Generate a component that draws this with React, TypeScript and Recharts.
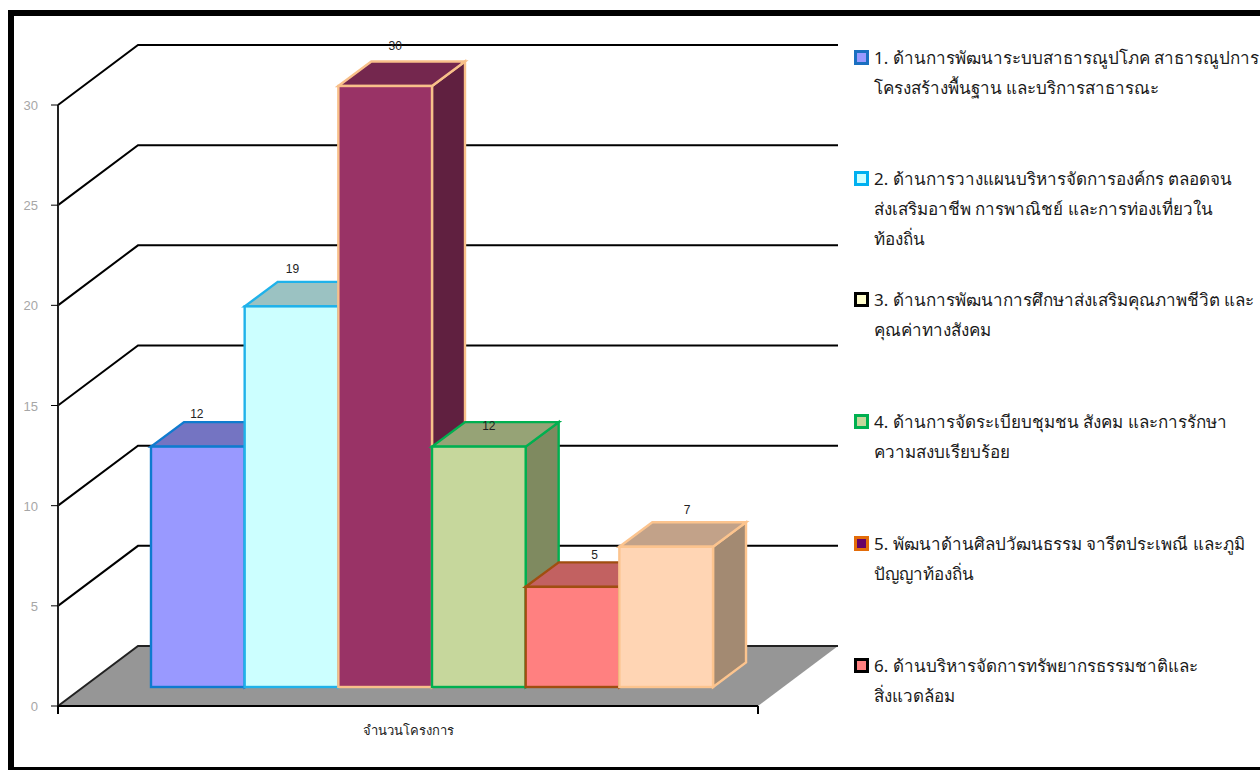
import React from 'react';
import { BarChart, Bar, XAxis, YAxis, Legend, CartesianGrid } from 'recharts';

const categories = ['จำนวนโครงการ'];
const seriesValues = [12, 19, 30, 12, 5, 7];
const yTicks = [0, 5, 10, 15, 20, 25, 30];
const seriesKeys = ['s1', 's2', 's3', 's4', 's5', 's6'];
const legendLines = [
  ['1. ด้านการพัฒนาระบบสาธารณูปโภค สาธารณูปการ', 'โครงสร้างพื้นฐาน และบริการสาธารณะ'],
  ['2. ด้านการวางแผนบริหารจัดการองค์กร ตลอดจน', 'ส่งเสริมอาชีพ การพาณิชย์ และการท่องเที่ยวใน', 'ท้องถิ่น'],
  ['3. ด้านการพัฒนาการศึกษาส่งเสริมคุณภาพชีวิต และ', 'คุณค่าทางสังคม'],
  ['4. ด้านการจัดระเบียบชุมชน สังคม และการรักษา', 'ความสงบเรียบร้อย'],
  ['5. พัฒนาด้านศิลปวัฒนธรรม จารีตประเพณี และภูมิ', 'ปัญญาท้องถิ่น'],
  ['6. ด้านบริหารจัดการทรัพยากรธรรมชาติและ', 'สิ่งแวดล้อม'],
];

const frontColors = ['#9999ff', '#ccffff', '#993366', '#c6d79c', '#ff8080', '#ffd5b4'];
const topColors = ['#7474c2', '#9bc2c2', '#74274e', '#96a376', '#c26161', '#c2a289'];
const sideColors = ['#5f5f9e', '#7f9e9e', '#602040', '#7f8a60', '#9e5050', '#a38a72'];
const edgeColors = ['#0f7bcf', '#1fb2ea', '#f8c08a', '#00b050', '#a04e10', '#fcc48e'];
const swatchFill = ['#9999ff', '#ccffff', '#ffffcc', '#c6d79c', '#660066', '#ff8080'];
const swatchEdge = ['#1a6fc0', '#00b0f0', '#000000', '#00b050', '#e36c09', '#000000'];
const legendFirstLineY = [58, 179, 300, 422, 544, 666];
const legendLineGap = 30;

const labelNudgeX = [-1, 1, 10, 10, 22, 21];
const labelLift = [33, 37, 40, 21, 32, 37];

const BAR_DX = 24;
const BAR_DY = -19;
const DEPTH_X = 33;
const DEPTH_Y = 24.5;
const WALL_DX = 80;
const WALL_DY = -60;
const PLOT_W = 700;
const FONT = 'Tahoma, "Noto Sans", "DejaVu Sans", sans-serif';
const FONT_NUM = '"Liberation Sans", Arial, sans-serif';

const data = categories.map((name) => {
  const row: Record<string, string | number> = { name };
  seriesKeys.forEach((k, i) => {
    row[k] = seriesValues[i];
  });
  return row;
});

function Box3D(props: any, i: number) {
  const { x, y, width, height } = props;
  const l = x + BAR_DX;
  const r = l + width;
  const t = y + BAR_DY;
  const b = t + height;
  const edge = edgeColors[i];
  return (
    <g>
      <polygon
        points={`${r},${t} ${r + DEPTH_X},${t - DEPTH_Y} ${r + DEPTH_X},${b - DEPTH_Y} ${r},${b}`}
        fill={sideColors[i]}
        stroke={edge}
        strokeWidth={2.4}
      />
      <polygon
        points={`${l},${t} ${l + DEPTH_X},${t - DEPTH_Y} ${r + DEPTH_X},${t - DEPTH_Y} ${r},${t}`}
        fill={topColors[i]}
        stroke={edge}
        strokeWidth={2.4}
      />
      <rect x={l} y={t} width={width} height={height} fill={frontColors[i]} stroke={edge} strokeWidth={2.4} />
    </g>
  );
}

function valueLabel(i: number) {
  return (p: any) => (
    <text
      x={p.x + BAR_DX + p.width / 2 + labelNudgeX[i]}
      y={p.y + BAR_DY - labelLift[i] + 4}
      textAnchor="middle"
      fontFamily={FONT_NUM}
      fontSize={12}
      fill="#222222"
    >
      {p.value}
    </text>
  );
}

function wallLine(props: any) {
  const { x1, y1, key } = props;
  const isZero = Math.abs(y1 - 706) < 1;
  return (
    <g key={key ?? y1}>
      {isZero && (
        <polygon
          points={`${x1},${y1} ${x1 + WALL_DX},${y1 + WALL_DY} ${x1 + WALL_DX + PLOT_W},${y1 + WALL_DY} ${x1 + PLOT_W},${y1}`}
          fill="#969696"
        />
      )}
      <polyline
        points={`${x1},${y1} ${x1 + WALL_DX},${y1 + WALL_DY} ${x1 + WALL_DX + PLOT_W},${y1 + WALL_DY}`}
        fill="none"
        stroke={isZero ? '#222222' : '#000000'}
        strokeWidth={2}
      />
    </g>
  );
}

function ValueTick(props: any) {
  const { x, y, payload } = props;
  const ax = x + 8;
  return (
    <g>
      <line x1={ax - 7} x2={ax} y1={y} y2={y} stroke="#000000" strokeWidth={1} />
      <text x={38} y={y + 5} textAnchor="end" fontFamily={FONT_NUM} fontSize={13} fill="#a6a6a6">
        {payload.value}
      </text>
    </g>
  );
}

function CategoryTick(props: any) {
  const { x, y, payload } = props;
  return (
    <g>
      <line x1={x - PLOT_W / 2} x2={x - PLOT_W / 2} y1={y - 8} y2={y} stroke="#000" strokeWidth={2} />
      <line x1={x + PLOT_W / 2} x2={x + PLOT_W / 2} y1={y - 8} y2={y} stroke="#000" strokeWidth={2} />
      <text x={x} y={y + 21} textAnchor="middle" fontFamily={FONT} fontSize={13} fill="#222222">
        {payload.value}
      </text>
    </g>
  );
}

function LegendBlock() {
  return (
    <div style={{ position: 'absolute', left: 0, top: 0, width: 1260, height: 770, pointerEvents: 'none' }}>
      {legendLines.map((lines, i) => (
        <React.Fragment key={i}>
          <div
            style={{
              position: 'absolute',
              left: 854,
              top: legendFirstLineY[i] - 8,
              width: 15,
              height: 15,
              boxSizing: 'border-box',
              background: swatchFill[i],
              border: `3px solid ${swatchEdge[i]}`,
            }}
          />
          {lines.map((line, j) => (
            <div
              key={j}
              style={{
                position: 'absolute',
                left: 874,
                top: legendFirstLineY[i] + j * legendLineGap - 14,
                height: 28,
                lineHeight: '28px',
                whiteSpace: 'nowrap',
                fontFamily: FONT,
                fontSize: 17,
                color: '#1a1a1a',
              }}
            >
              {line}
            </div>
          ))}
        </React.Fragment>
      ))}
    </div>
  );
}

export default function App() {
  return (
    <div style={{ position: 'absolute', left: 0, top: 0, width: 1260, height: 770, background: '#fff', overflow: 'hidden' }}>
      <div
        style={{
          position: 'absolute',
          left: 8,
          top: 10,
          width: 1252,
          height: 760,
          boxSizing: 'border-box',
          borderLeft: '6px solid #000',
          borderTop: '6px solid #000',
          borderBottom: '3px solid #000',
        }}
      />
      <BarChart
        width={1260}
        height={770}
        data={data}
        margin={{ top: 105, right: 502, bottom: 0, left: 0 }}
        barGap={0}
        barSize={93.67}
        style={{ position: 'absolute', left: 0, top: 0 }}
      >
        <CartesianGrid horizontal={wallLine as any} vertical={false} />
        <YAxis
          width={58}
          domain={[0, 30]}
          ticks={yTicks}
          tickSize={6}
          tickMargin={2}
          tickLine={false}
          interval={0}
          axisLine={{ stroke: '#222222', strokeWidth: 2 }}
          tick={ValueTick}
        />
        <XAxis
          dataKey="name"
          height={64}
          tickSize={0}
          tickMargin={8}
          tickLine={false}
          axisLine={{ stroke: '#000000', strokeWidth: 2 }}
          tick={CategoryTick}
        />
        {seriesKeys.map((k, i) => (
          <Bar
            key={k}
            dataKey={k}
            name={legendLines[i].join(' ')}
            fill={frontColors[i]}
            isAnimationActive={false}
            shape={(p: any) => Box3D(p, i)}
            label={valueLabel(i)}
          />
        ))}
        <Legend
          layout="vertical"
          align="center"
          verticalAlign="middle"
          wrapperStyle={{ left: 0, top: 0, width: 1260, height: 770, pointerEvents: 'none' }}
          content={() => <LegendBlock />}
        />
      </BarChart>
    </div>
  );
}
